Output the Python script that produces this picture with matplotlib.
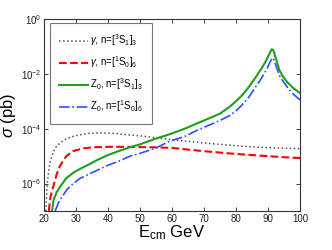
import numpy as np
import matplotlib
matplotlib.use('Agg')
import matplotlib.pyplot as plt
from matplotlib.ticker import NullLocator

plt.rcParams['font.family'] = ['Liberation Sans', 'DejaVu Sans']
plt.rcParams['mathtext.fontset'] = 'custom'
plt.rcParams['mathtext.rm'] = 'Liberation Sans'
plt.rcParams['mathtext.it'] = 'Liberation Sans:italic'

# gamma, n=[3S1]_3  (log10 sigma)
E_g3 = [20.6, 21.0, 21.5, 22.0, 22.9, 24, 26, 28, 30, 34, 38, 42, 46, 50, 55,
        60, 65, 70, 75, 80, 85, 90, 95, 100]
lg_g3 = [-7.0, -6.0, -5.5, -5.15, -4.85, -4.62, -4.43, -4.32, -4.25, -4.17,
         -4.15, -4.17, -4.22, -4.26, -4.33, -4.40, -4.46, -4.52, -4.57, -4.62,
         -4.66, -4.69, -4.71, -4.73]

# gamma, n=[1S0]_6
E_g1 = [21.5, 22.0, 22.9, 24, 25, 27, 29, 32, 35, 40, 45, 50, 55, 60, 65, 70,
        75, 80, 85, 90, 95, 100]
lg_g1 = [-7.0, -6.5, -6.1, -5.65, -5.35, -5.0, -4.82, -4.72, -4.68, -4.66,
         -4.66, -4.67, -4.68, -4.70, -4.76, -4.82, -4.87, -4.92, -4.96, -5.0,
         -5.04, -5.07]

# Z0, n=[3S1]_3
E_z3 = [22.5, 23, 24, 25, 27, 29.2, 32, 34.4, 37, 39.6, 43, 47, 50, 54.7, 58,
        60, 64, 67.5, 70, 75, 78, 80, 82, 84, 86, 88, 89.5, 90.5, 91.2, 91.7,
        92.5, 93.5, 94.6, 96, 98, 100]
lg_z3 = [-7.0, -6.6, -6.3, -6.12, -5.8, -5.6, -5.42, -5.28, -5.12, -4.98,
         -4.83, -4.67, -4.57, -4.37, -4.25, -4.17, -4.0, -3.82, -3.7, -3.45,
         -3.2, -3.0, -2.77, -2.48, -2.15, -1.8, -1.5, -1.25, -1.1, -1.15,
         -1.45, -1.85, -2.08, -2.3, -2.53, -2.7]

# Z0, n=[1S0]_6
E_z1 = [23.5, 24.5, 25, 27.1, 28.1, 31.25, 33.3, 36, 39.6, 43, 46.9, 50, 55,
        59.4, 64, 68, 72, 75, 78, 80, 82, 84, 86, 88, 89.5, 90.5, 91.3, 91.7,
        92.5, 93.5, 94.6, 96, 98, 100]
lg_z1 = [-7.0, -6.7, -6.6, -6.23, -6.1, -5.81, -5.7, -5.55, -5.35, -5.2,
         -5.0, -4.9, -4.7, -4.45, -4.28, -4.05, -3.85, -3.7, -3.52, -3.35,
         -3.12, -2.85, -2.5, -2.15, -1.85, -1.6, -1.42, -1.45, -1.7, -2.05,
         -2.25, -2.48, -2.75, -2.95]

labels = [r'$\gamma$, n=[$^3$S$_1$]$_3$', r'$\gamma$, n=[$^1$S$_0$]$_6$',
          r'Z$_0$, n=[$^3$S$_1$]$_3$', r'Z$_0$, n=[$^1$S$_0$]$_6$']

fig = plt.figure(figsize=(3.32, 2.5), dpi=100)
ax = fig.add_axes([44/332, 39/250, 256/332, 192/250])

ax.plot(E_g3, 10**np.array(lg_g3), ':', color='#555555', lw=1.1, label=labels[0])
ax.plot(E_g1, 10**np.array(lg_g1), '--', color='#ff0000', lw=1.5, label=labels[1])
ax.plot(E_z3, 10**np.array(lg_z3), '-', color='#1e9e1e', lw=1.5, label=labels[2])
ax.plot(E_z1, 10**np.array(lg_z1), '-.', color='#2f4fff', lw=1.2, label=labels[3])

ax.set_yscale('log')
ax.set_xlim(20, 100)
ax.set_ylim(1e-7, 1)
ax.set_xticks(np.arange(20, 101, 10))
ax.set_yticks([1e-6, 1e-4, 1e-2, 1])
ax.yaxis.set_minor_locator(NullLocator())
ax.tick_params(direction='in', which='both', top=True, right=True,
               labelsize=7, length=3, width=0.6, colors='#222222', pad=2)
for s in ax.spines.values():
    s.set_color('#333333')
    s.set_linewidth(0.8)

ax.set_xlabel(r'E$_{\rm cm}$ GeV', fontsize=12, labelpad=0)
ax.set_ylabel(r'$\sigma$ (pb)', fontsize=12, labelpad=2)

leg = ax.legend(loc='upper left', bbox_to_anchor=(6/256, 188/192), borderaxespad=0,
                fontsize=7, handlelength=3.0, labelspacing=0.65, handletextpad=0.2,
                fancybox=False, borderpad=0.95)
leg.get_frame().set_edgecolor('#555555')
leg.get_frame().set_linewidth(0.8)

fig.savefig('out.png', dpi=100)
